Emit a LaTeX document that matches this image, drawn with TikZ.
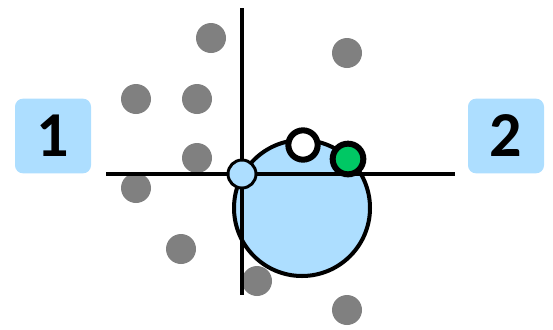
\documentclass[tikz,border=0pt]{standalone}
\usepackage{fontspec}
\setmainfont{Carlito}
\usepackage{xcolor}
\usepackage{tikz}
\usetikzlibrary{positioning,backgrounds}
\definecolor{cpt}{RGB}{128,128,128}
\definecolor{cblue}{RGB}{173,222,255}
\definecolor{cgreen}{RGB}{0,200,100}

\begin{document}
\begin{tikzpicture}[
  x=0.75pt,y=-0.75pt,
  % pixel grid, y pointing down
  pt/.style={circle,fill=cpt,minimum size=22.5pt,inner sep=0pt},
  ball/.style={circle,draw=black,line width=3pt,fill=cblue,minimum size=102pt,inner sep=0pt},
  orig/.style={circle,draw=black,line width=2.2pt,fill=cblue,minimum size=21pt,inner sep=0pt},
  cand/.style={circle,draw=black,line width=4.5pt,fill=white,minimum size=22pt,inner sep=0pt},
  pick/.style={circle,draw=black,line width=4.5pt,fill=cgreen,minimum size=23pt,inner sep=0pt},
  axis/.style={line width=3pt,black},
  tag/.style={fill=cblue,rounded corners=6pt,minimum width=57pt,minimum height=56pt,
    inner sep=0pt,font=\fontsize{48}{48}\selectfont\bfseries},
]
\useasboundingbox (0,0) rectangle (553,329);

% =========== the point cloud ===========
\node[pt] (p1) at (211,38) {};
\node[pt] (p2) at (347,53) {};
\node[pt] (p3) at (136,99) {};
\node[pt] (p4) at (197,99) {};
\node[pt] (p5) at (197,158) {};
\node[pt] (p6) at (136,188) {};
\node[pt] (p7) at (181,249) {};
\node[pt] (p8) at (257,281) {};
\node[pt] (p9) at (347,310) {};

% =========== the ball, then axes over it ===========
\node[ball] (bal) at (302,208) {};
\coordinate (xl) at (106,174);
\coordinate (xr) at (455,174);
\coordinate (yt) at (242,8);
\coordinate (yb) at (242,295);
\draw[axis] (xl) -- (xr);
\draw[axis] (yt) -- (yb);

% =========== origin and the two points on the rim ===========
\node[orig] (o) at (242,174) {};
\node[cand] (w) at (303,145) {};
\node[pick] (g) at (348,159) {};

% =========== the two tags ===========
\node[tag] (t1) at (53,136) {1};
\node[tag] (t2) at (506,136) {2};

\end{tikzpicture}
\end{document}
